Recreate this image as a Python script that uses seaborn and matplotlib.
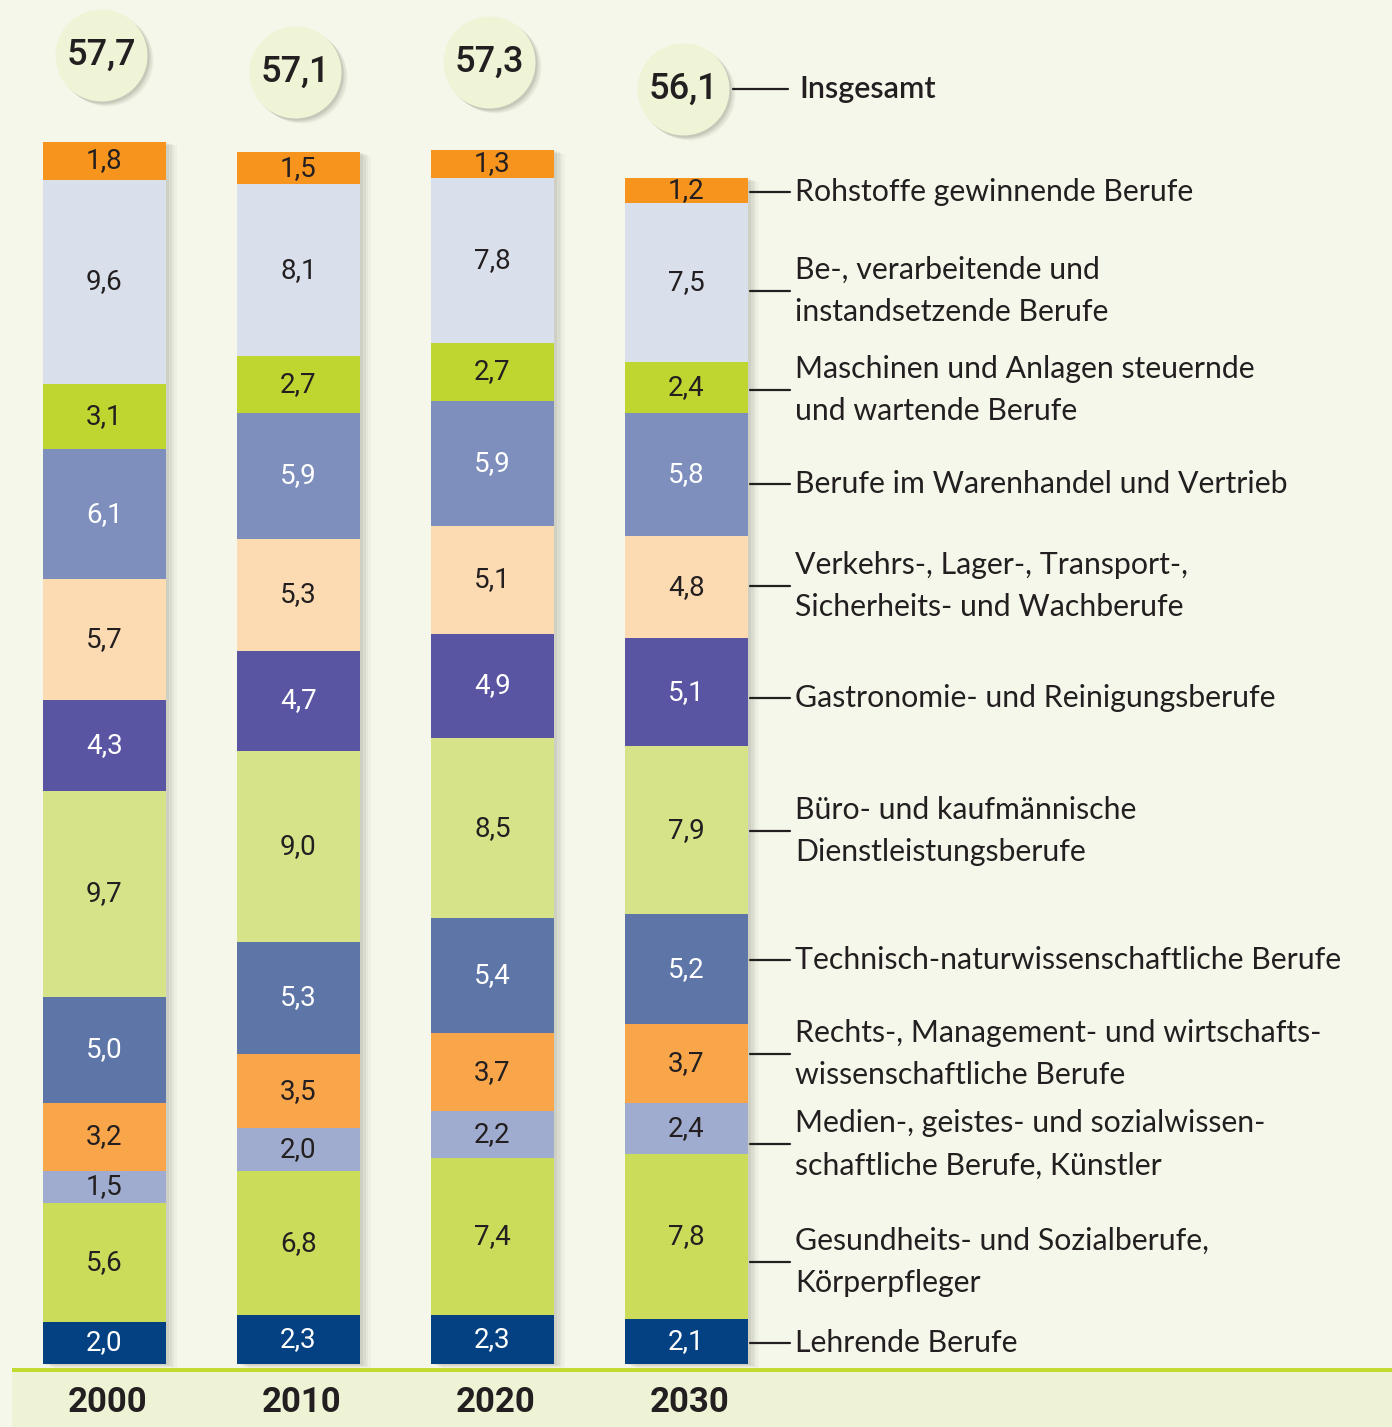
import matplotlib
matplotlib.use("Agg")
import matplotlib.pyplot as plt
import matplotlib.patheffects as pe
import numpy as np
import pandas as pd
import seaborn as sns

# ---------------- data ----------------
years = ["2000", "2010", "2020", "2030"]
totals = [57.7, 57.1, 57.3, 56.1]

# bottom -> top
categories = [
    "Lehrende Berufe",
    "Gesundheits- und Sozialberufe,\nKörperpfleger",
    "Medien-, geistes- und sozialwissen-\nschaftliche Berufe, Künstler",
    "Rechts-, Management- und wirtschafts-\nwissenschaftliche Berufe",
    "Technisch-naturwissenschaftliche Berufe",
    "Büro- und kaufmännische\nDienstleistungsberufe",
    "Gastronomie- und Reinigungsberufe",
    "Verkehrs-, Lager-, Transport-,\nSicherheits- und Wachberufe",
    "Berufe im Warenhandel und Vertrieb",
    "Maschinen und Anlagen steuernde\nund wartende Berufe",
    "Be-, verarbeitende und\ninstandsetzende Berufe",
    "Rohstoffe gewinnende Berufe",
]
lehrende = [2.0, 2.3, 2.3, 2.1]
gesundheit = [5.6, 6.8, 7.4, 7.8]
medien = [1.5, 2.0, 2.2, 2.4]
rechts = [3.2, 3.5, 3.7, 3.7]
technisch = [5.0, 5.3, 5.4, 5.2]
buero = [9.7, 9.0, 8.5, 7.9]
gastro = [4.3, 4.7, 4.9, 5.1]
verkehr = [5.7, 5.3, 5.1, 4.8]
warenhandel = [6.1, 5.9, 5.9, 5.8]
maschinen = [3.1, 2.7, 2.7, 2.4]
verarbeitend = [9.6, 8.1, 7.8, 7.5]
rohstoffe = [1.8, 1.5, 1.3, 1.2]
series = [lehrende, gesundheit, medien, rechts, technisch, buero, gastro,
          verkehr, warenhandel, maschinen, verarbeitend, rohstoffe]

# ---------------- style ----------------
colors = ["#034182", "#CBDC5B", "#A0ACCF", "#F9A54A", "#5E75A8", "#D7E388",
          "#5A55A3", "#FDDBB2", "#7E8FBD", "#BFD630", "#DADFEC", "#F7941D"]
white_text = [True, False, False, False, True, False, True, False, True, False, False, False]
BG = "#F5F7EA"
BAND = "#EEF3D6"
GREEN_LINE = "#C2D92F"
DARK = "#231F20"
CIRCLE = "#EFF4D6"

W, H = 1392, 1427
BASE_PX = 1364.0       # pixel row of value 0
PX_PER_UNIT = 21.22    # vertical pixels per unit
X0_PX = 104.5          # pixel column of first bar centre
X_STEP_PX = 194.0      # pixels between bar centres
BAR_W_PX = 123.0

circle_y_px = [55, 72, 62, 89]
label_y_px = [1343, 1262, 1144, 1054, 960, 831, 698, 586, 484, 390, 291, 192]
label_x_px = 795
line_x0_px, line_x1_px = 750, 790

sns.set_theme(style="white")
plt.rcParams["font.family"] = ["Lato", "DejaVu Sans"]

fig = plt.figure(figsize=(W / 100, H / 100), dpi=100, facecolor=BG)
ax = fig.add_axes([0, 0, 1, 1])
ax.set_facecolor(BG)


def yd(py):
    return (BASE_PX - py) / PX_PER_UNIT


def xd(px):
    return (px - X0_PX) / X_STEP_PX


# bottom band + green line
ax.axhspan(yd(H + 5), yd(1371), xmin=12 / W, xmax=1, color=BAND, zorder=0, lw=0)
ax.axhspan(yd(1372), yd(1368), xmin=12 / W, xmax=1, color=GREEN_LINE, zorder=1, lw=0)

# stacked bars through seaborn (cumulative layers, drawn top layer first)
vals = np.array(series)
cum = np.cumsum(vals, axis=0)
bar_w = BAR_W_PX / X_STEP_PX
shadow = [pe.SimplePatchShadow(offset=(k, -k / 3), shadow_rgbFace="#7d8070", alpha=a)
          for k, a in [(8, 0.06), (6, 0.08), (4, 0.10), (2, 0.12)]]
for i in range(len(categories) - 1, -1, -1):
    df = pd.DataFrame({"year": years, "cum": cum[i]})
    n_before = len(ax.patches)
    sns.barplot(data=df, x="year", y="cum", color=colors[i], width=bar_w,
                saturation=1, ax=ax, zorder=3, linewidth=0, errorbar=None)
    if i == len(categories) - 1:
        for p in ax.patches[n_before:]:
            p.set_path_effects(shadow + [pe.Normal()])

# value labels
for i, cat in enumerate(categories):
    for j in range(len(years)):
        v = vals[i, j]
        yc = cum[i, j] - v / 2
        ax.text(j, yc, f"{v:.1f}".replace(".", ","), ha="center", va="center",
                fontsize=20, family=["Roboto", "DejaVu Sans"],
                color="white" if white_text[i] else DARK, zorder=5)

# totals circles
xs = np.arange(len(years)) - 3 / X_STEP_PX
cy = [yd(p) for p in circle_y_px]
for k, a in [(9, 0.08), (7, 0.12), (5, 0.16), (3, 0.18)]:
    ax.scatter(xs + k * 0.6 / X_STEP_PX, np.array(cy) - k * 0.6 / PX_PER_UNIT, s=(92 * 0.72) ** 2,
               color="#8f927f", alpha=a, lw=0, zorder=6)
ax.scatter(xs, cy, s=(92 * 0.72) ** 2, color=CIRCLE, lw=0, zorder=7)
for j, t in enumerate(totals):
    ax.text(xs[j], cy[j], f"{t:.1f}".replace(".", ","), ha="center", va="center",
            fontsize=26, fontweight="medium", family=["Roboto", "DejaVu Sans"],
            color=DARK, zorder=8)

# year labels
for j, y in enumerate(years):
    ax.text(j + 3 / X_STEP_PX, yd(1403), y, ha="center", va="center", fontsize=25,
            fontweight="bold", family=["Roboto", "DejaVu Sans"], color=DARK, zorder=8)

# legend labels with leader lines
ax.plot([xd(733), xd(788)], [yd(89), yd(89)], color=DARK, lw=1.6, zorder=8)
ax.text(xd(799), yd(89), "Insgesamt", ha="left", va="center", fontsize=22,
        fontweight="semibold", color=DARK, zorder=8)
for i, cat in enumerate(categories):
    y = yd(label_y_px[i])
    ax.plot([xd(line_x0_px), xd(line_x1_px)], [y, y], color=DARK, lw=1.6, zorder=8)
    ax.text(xd(label_x_px), y, cat, ha="left", va="center", fontsize=21.8,
            color=DARK, linespacing=1.65, zorder=8)

ax.set_xlim(xd(0), xd(W))
ax.set_ylim(yd(H), yd(0))
ax.axis("off")

fig.savefig("out.png", dpi=100, facecolor=BG)
